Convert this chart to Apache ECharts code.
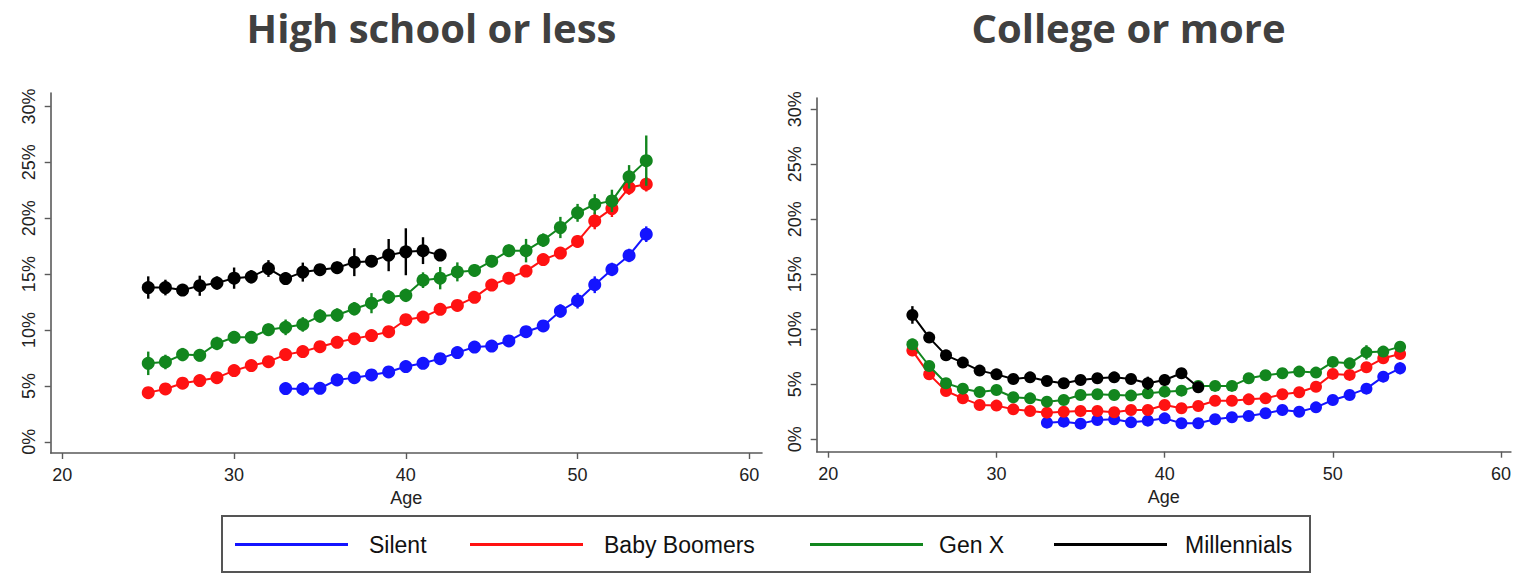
<!DOCTYPE html>
<html>
<head>
<meta charset="utf-8">
<script src="https://cdn.jsdelivr.net/npm/echarts@6/dist/echarts.min.js"></script>
<style>
html,body{margin:0;padding:0;background:#fff;}
#chart{width:1514px;height:574px;}
</style>
</head>
<body>
<div id="chart"></div>
<script>
// ---------- DATA ----------
const seriesNames = ['Silent', 'Baby Boomers', 'Gen X', 'Millennials'];
const seriesColors = ['#1414ff', '#ff1212', '#12861e', '#000000'];
const panelTitles = ['High school or less', 'College or more'];
const xTickValues = [20, 30, 40, 50, 60];
const yTickValues = [0, 5, 10, 15, 20, 25, 30];

const agesSilent = [33,34,35,36,37,38,39,40,41,42,43,44,45,46,47,48,49,50,51,52,53,54];
const agesBoomers = [25,26,27,28,29,30,31,32,33,34,35,36,37,38,39,40,41,42,43,44,45,46,47,48,49,50,51,52,53,54];
const agesGenX = [25,26,27,28,29,30,31,32,33,34,35,36,37,38,39,40,41,42,43,44,45,46,47,48,49,50,51,52,53,54];
const agesMill = [25,26,27,28,29,30,31,32,33,34,35,36,37,38,39,40,41,42];

// High school or less (percent)
const hsSilent = [4.76,4.73,4.79,5.54,5.74,5.98,6.25,6.73,7.02,7.44,7.98,8.48,8.57,9.02,9.85,10.36,11.7,12.62,14.05,15.42,16.67,18.57];
const hsBoomers = [4.4,4.73,5.24,5.48,5.74,6.37,6.82,7.17,7.8,8.07,8.51,8.9,9.23,9.5,9.85,10.92,11.16,11.85,12.2,12.92,14.02,14.64,15.27,16.3,16.88,17.92,19.76,20.86,22.74,23.04];
const hsGenX = [7.02,7.14,7.8,7.74,8.8,9.35,9.35,10.03,10.24,10.5,11.25,11.34,11.9,12.4,12.95,13.1,14.46,14.64,15.2,15.33,16.16,17.1,17.1,18.04,19.17,20.48,21.25,21.55,23.7,25.15];
const hsMill = [13.8,13.8,13.57,13.96,14.2,14.64,14.76,15.5,14.6,15.18,15.4,15.57,16.07,16.16,16.7,17.0,17.1,16.7];

// High school: error-bar half widths (percent points)
const hsSilentErr = [0.4,0.6,0.35,0.55,0.35,0.4,0.4,0.4,0.4,0.4,0.4,0.4,0.4,0.45,0.45,0.45,0.6,0.7,0.75,0.6,0.6,0.7];
const hsBoomersErr = [0.3,0.3,0.3,0.3,0.3,0.3,0.3,0.3,0.35,0.35,0.35,0.35,0.35,0.35,0.35,0.4,0.4,0.4,0.4,0.4,0.45,0.45,0.45,0.5,0.5,0.55,0.75,0.75,0.65,0.65];
const hsGenXErr = [1.05,0.65,0.6,0.55,0.6,0.5,0.5,0.55,0.7,0.65,0.6,0.6,0.6,0.9,0.6,0.6,0.7,1.0,0.85,0.55,0.55,0.55,1.05,0.6,0.95,0.8,0.9,1.0,1.05,2.25];
const hsMillErr = [1.0,0.7,0.5,0.9,0.6,0.95,0.6,0.75,0.55,0.85,0.5,0.55,1.25,0.45,1.44,2.1,1.2,0.3];

// College or more (percent)
const colSilent = [1.51,1.6,1.42,1.75,1.82,1.54,1.69,1.9,1.45,1.45,1.82,2.0,2.12,2.36,2.66,2.5,2.9,3.57,4.03,4.6,5.69,6.45];
const colBoomers = [8.06,5.9,4.39,3.72,3.12,3.06,2.72,2.57,2.42,2.5,2.57,2.57,2.45,2.66,2.66,3.12,2.82,3.03,3.5,3.5,3.63,3.72,4.09,4.27,4.78,5.94,5.85,6.54,7.36,7.75];
const colGenX = [8.63,6.66,5.09,4.6,4.3,4.48,3.82,3.72,3.42,3.57,4.03,4.09,4.03,3.97,4.18,4.33,4.42,4.85,4.85,4.85,5.54,5.82,6.0,6.15,6.06,7.03,6.9,7.9,7.97,8.42];
const colMill = [11.3,9.24,7.63,6.97,6.24,5.9,5.48,5.63,5.3,5.09,5.39,5.54,5.63,5.48,5.09,5.39,6.0,4.72];

// College: error-bar half widths
const colSilentErr = [0.3,0.3,0.3,0.3,0.3,0.3,0.3,0.3,0.3,0.3,0.3,0.3,0.3,0.3,0.3,0.3,0.3,0.35,0.4,0.45,0.5,0.55];
const colBoomersErr = [0.5,0.35,0.3,0.3,0.3,0.3,0.3,0.3,0.3,0.3,0.3,0.3,0.3,0.3,0.3,0.3,0.3,0.3,0.3,0.3,0.3,0.3,0.3,0.3,0.3,0.35,0.35,0.4,0.4,0.4];
const colGenXErr = [0.5,0.4,0.35,0.35,0.35,0.35,0.35,0.35,0.35,0.35,0.35,0.35,0.35,0.35,0.35,0.35,0.35,0.35,0.35,0.35,0.35,0.35,0.35,0.35,0.35,0.4,0.4,0.65,0.45,0.45];
const colMillErr = [0.8,0.4,0.35,0.35,0.3,0.3,0.3,0.3,0.3,0.3,0.3,0.3,0.3,0.35,0.6,0.5,0.45,0.3];

// ---------- BUILD ----------
const FONT = "'Liberation Sans', Arial, Helvetica, sans-serif";
const panels = [
  { ages: [agesSilent, agesBoomers, agesGenX, agesMill],
    vals: [hsSilent, hsBoomers, hsGenX, hsMill],
    errs: [hsSilentErr, hsBoomersErr, hsGenXErr, hsMillErr], dot: 13 },
  { ages: [agesSilent, agesBoomers, agesGenX, agesMill],
    vals: [colSilent, colBoomers, colGenX, colMill],
    errs: [colSilentErr, colBoomersErr, colGenXErr, colMillErr], dot: 12 }
];

function pairs(xs, ys) { return xs.map((x, i) => [x, ys[i]]); }
function bars(xs, ys, es) { return xs.map((x, i) => [x, ys[i] - es[i], ys[i] + es[i]]); }

const series = [];
panels.forEach((p, pi) => {
  for (let k = 0; k < 4; k++) {
    const col = seriesColors[k];
    series.push({
      type: 'custom', name: seriesNames[k] + ' CI ' + pi,
      xAxisIndex: pi, yAxisIndex: pi, silent: true, z: 2 + k,
      encode: { x: 0, y: [1, 2] },
      data: bars(p.ages[k], p.vals[k], p.errs[k]),
      renderItem: function (params, api) {
        const a = api.coord([api.value(0), api.value(1)]);
        const b = api.coord([api.value(0), api.value(2)]);
        return { type: 'line', shape: { x1: a[0], y1: a[1], x2: b[0], y2: b[1] },
                 style: { stroke: col, lineWidth: 2.4 } };
      }
    });
    series.push({
      type: 'line', name: seriesNames[k],
      xAxisIndex: pi, yAxisIndex: pi, z: 2 + k,
      data: pairs(p.ages[k], p.vals[k]),
      symbol: 'circle', symbolSize: p.dot, showSymbol: true,
      itemStyle: { color: col },
      lineStyle: { color: col, width: 2 },
      silent: true
    });
  }
});

const gridDefs = [
  { left: 50.7, top: 93, width: 711.3, height: 360 },
  { left: 816.7, top: 98, width: 695, height: 353.7 }
];
const xRanges = [[19.32, 60.74], [19.31, 60.59]];
const yRanges = [[-1.0, 31.2], [-1.13, 31.02]];
const axisCol = '#5a5a5a';

const xAxis = gridDefs.map((g, i) => ({
  type: 'value', gridIndex: i, min: xRanges[i][0], max: xRanges[i][1],
  name: 'Age', nameLocation: 'middle', nameGap: 32,
  nameTextStyle: { fontFamily: FONT, fontSize: 18, color: '#222' },
  axisLine: { show: true, onZero: false, lineStyle: { color: axisCol, width: 1.6 } },
  axisTick: { show: true, length: 6, customValues: xTickValues, lineStyle: { color: axisCol, width: 1.4 } },
  axisLabel: { customValues: xTickValues, fontFamily: FONT, fontSize: 18, color: '#222', margin: 13 },
  splitLine: { show: false }
}));
const yAxis = gridDefs.map((g, i) => ({
  type: 'value', gridIndex: i, min: yRanges[i][0], max: yRanges[i][1],
  axisLine: { show: true, onZero: false, lineStyle: { color: axisCol, width: 1.6 } },
  axisTick: { show: true, length: 6, customValues: yTickValues, lineStyle: { color: axisCol, width: 1.4 } },
  axisLabel: { customValues: yTickValues, rotate: 90, formatter: '{value}%', fontFamily: FONT, fontSize: 18, color: '#222', margin: 13 },
  splitLine: { show: false }
}));

const legendLeft = [235, 470, 810, 1054];
const legendPad = [16, 16, 11, 13];
const legend = seriesNames.map((n, i) => ({
  data: [n], left: legendLeft[i], top: 533, orient: 'horizontal',
  icon: 'rect', itemWidth: 113, itemHeight: 3, itemGap: 0, selectedMode: false,
  padding: 0,
  textStyle: { fontFamily: FONT, fontSize: 23, color: '#111', padding: [0, 0, 0, legendPad[i]] }
}));

const titleCenters = [431.5, 1128.5];
const graphic = [
  { type: 'rect', shape: { x: 222, y: 516, width: 1088, height: 56 },
    style: { fill: 'none', stroke: '#555', lineWidth: 2 }, silent: true },
  ...panelTitles.map((t, i) => ({
    type: 'text', x: titleCenters[i], y: 27, silent: true,
    style: { text: t, fontFamily: "'Open Sans', sans-serif", fontWeight: 700, fontSize: 40,
             fill: '#404040', textAlign: 'center', textVerticalAlign: 'middle' }
  }))
];

const chart = echarts.init(document.getElementById('chart'), null, { renderer: 'svg' });
chart.setOption({
  backgroundColor: '#ffffff',
  animation: false,
  grid: gridDefs,
  xAxis: xAxis,
  yAxis: yAxis,
  legend: legend,
  graphic: graphic,
  series: series
});
</script>
</body>
</html>
